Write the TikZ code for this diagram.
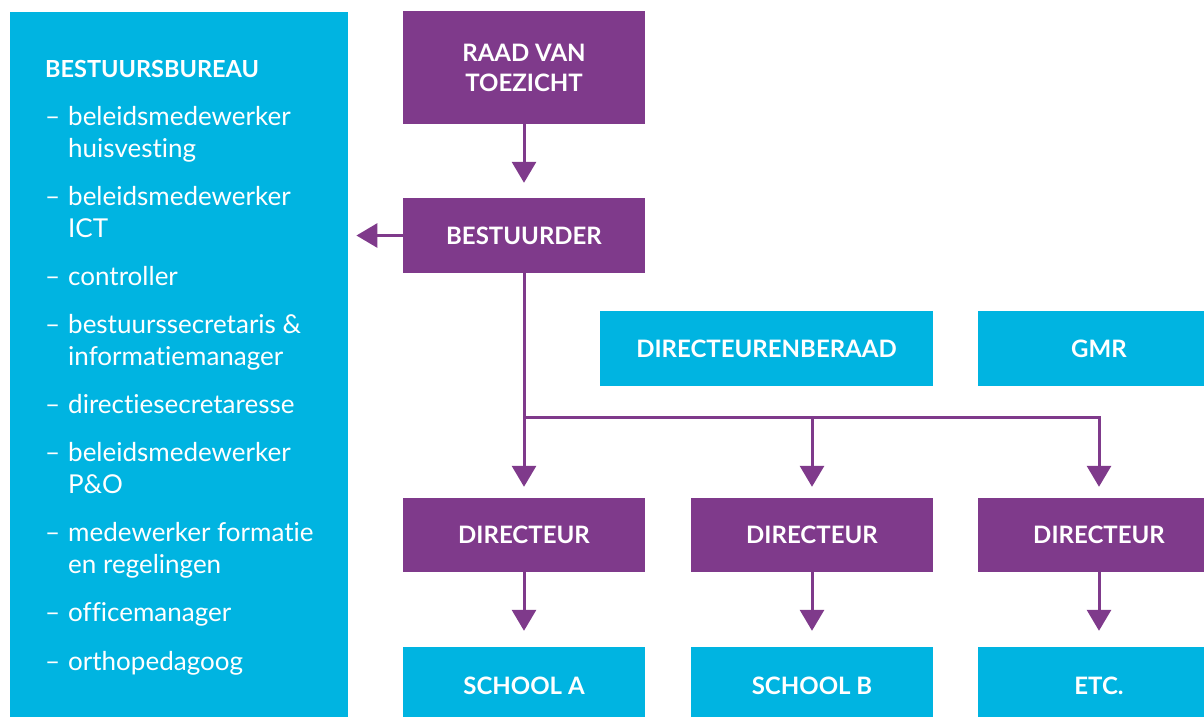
\documentclass[tikz,border=0pt]{standalone}
\usepackage{fontspec}
\setmainfont{Lato}[Ligatures={NoCommon}]
\usetikzlibrary{arrows.meta}
\definecolor{cy}{RGB}{0,180,225}
\definecolor{pu}{RGB}{127,58,139}
\begin{document}
\begin{tikzpicture}[x=1pt,y=-1pt,
  pbox/.style={fill=pu,text=white,inner sep=0pt,minimum width=242pt,font=\bfseries\fontsize{24}{30}\selectfont,align=center},
  cbox/.style={fill=cy,text=white,inner sep=0pt,font=\bfseries\fontsize{24}{30}\selectfont,align=center},
  conn/.style={draw=pu,line width=3pt},
  arr/.style={conn,-{Triangle[width=24pt,length=21pt]}},
  item/.style={text=white,inner sep=0pt,anchor=base west,font=\fontsize{26}{30}\selectfont},
  head/.style={text=white,inner sep=0pt,anchor=base west,font=\bfseries\fontsize{23.5}{26}\selectfont}]
\useasboundingbox (0,0) rectangle (1204,716);
\clip (0,0) rectangle (1204,716);
% left panel
\node[fill=cy,inner sep=0pt,minimum width=338pt,minimum height=714pt,anchor=north west] (panel) at (10,12) {};
\node[head] (h) at (45,77) {BESTUURSBUREAU};
\foreach \n/\y in {d1/125,d2/205,d3/285,d4/333,d5/413,d6/461,d7/541,d8/621,d9/670}
  \node[item] (\n) at (45,\y) {–};
\node[item] (t1a) at (68,125) {beleidsmedewerker};
\node[item] (t1b) at (68,157) {huisvesting};
\node[item] (t2a) at (68,205) {beleidsmedewerker};
\node[item] (t2b) at (68,237) {ICT};
\node[item] (t3) at (68,285) {controller};
\node[item] (t4a) at (68,333) {bestuurssecretaris \&};
\node[item] (t4b) at (68,365) {informatiemanager};
\node[item] (t5) at (68,413) {directiesecretaresse};
\node[item] (t6a) at (68,461) {beleidsmedewerker};
\node[item] (t6b) at (68,493) {P\&O};
\node[item] (t7a) at (68,541) {medewerker formatie};
\node[item] (t7b) at (68,573) {en regelingen};
\node[item] (t8) at (68,621) {officemanager};
\node[item] (t9) at (68,670) {orthopedagoog};
% purple boxes
\node[pbox,minimum height=113pt] (rvt) at (524,67.5) {RAAD VAN\\TOEZICHT};
\node[pbox,minimum height=75pt] (best) at (524,235.5) {BESTUURDER};
\node[pbox,minimum height=74pt] (dir1) at (524,535) {DIRECTEUR};
\node[pbox,minimum height=74pt] (dir2) at (812,535) {DIRECTEUR};
\node[pbox,minimum height=74pt] (dir3) at (1099,535) {DIRECTEUR};
% cyan boxes
\node[cbox,minimum width=333pt,minimum height=75pt] (dirb) at (766.5,348.5) {DIRECTEURENBERAAD};
\node[cbox,minimum width=242pt,minimum height=75pt] (gmr) at (1099,348.5) {GMR};
\node[cbox,minimum width=242pt,minimum height=78pt] (sa) at (524,686) {SCHOOL A};
\node[cbox,minimum width=242pt,minimum height=78pt] (sb) at (812,686) {SCHOOL B};
\node[cbox,minimum width=242pt,minimum height=78pt] (etc) at (1099,686) {ETC.};
% connectors
\draw[arr,shorten >=15pt] (rvt.south) -- (best.north);
\draw[arr,shorten >=8pt] (best.west) -- (best.west -| panel.east);
\coordinate (bus) at (best.south |- 0,417);
\draw[arr,shorten >=11pt] (best.south) -- (dir1.north);
\draw[arr,shorten >=11pt] (bus) -| (dir2.north);
\draw[arr,shorten >=11pt] (bus) -| (dir3.north);
\draw[arr,shorten >=16pt] (dir1.south) -- (sa.north);
\draw[arr,shorten >=16pt] (dir2.south) -- (sb.north);
\draw[arr,shorten >=16pt] (dir3.south) -- (etc.north);
\end{tikzpicture}
\end{document}
